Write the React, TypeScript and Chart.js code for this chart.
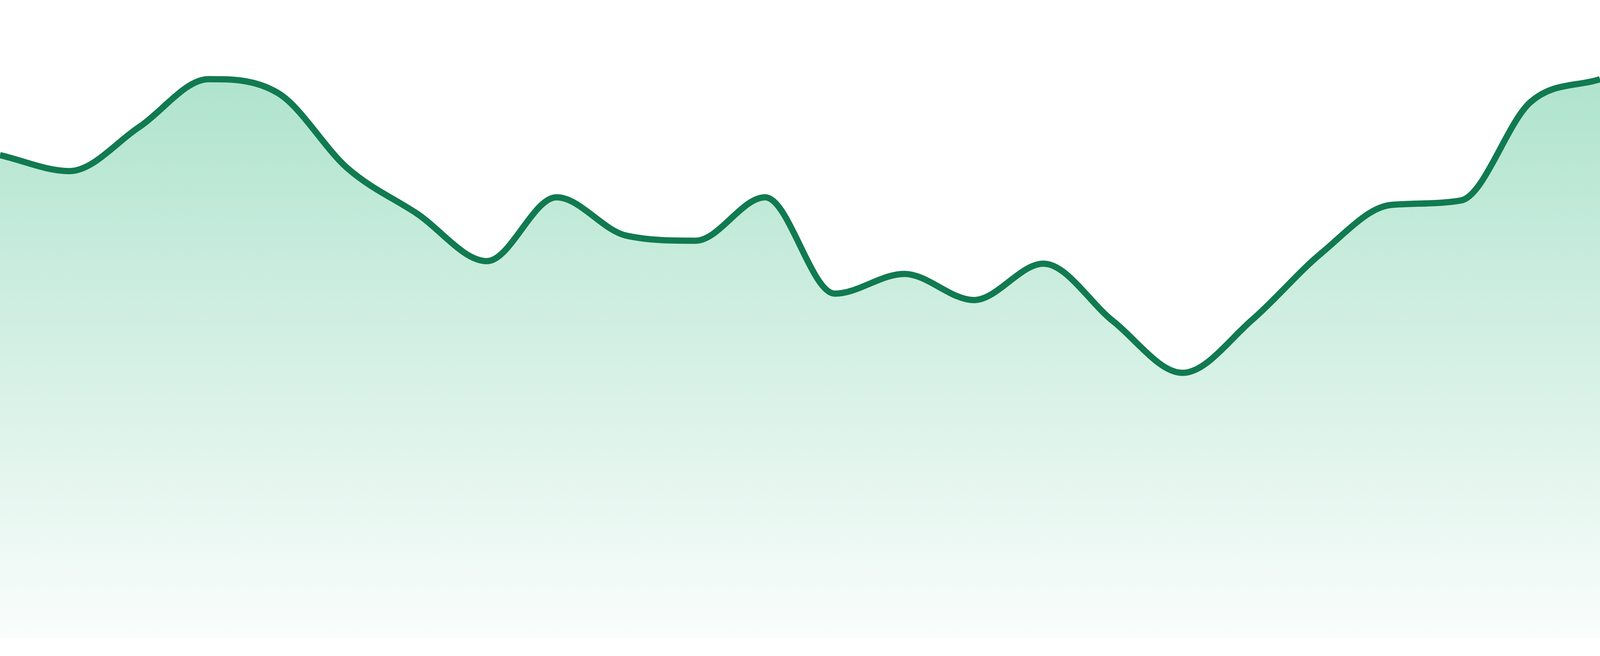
import React, { useEffect, useRef } from 'react';
import Chart from 'chart.js/auto';

// === Data ===
const LABELS = [
  '1', '2', '3', '4', '5', '6', '7', '8', '9', '10', '11', '12',
  '13', '14', '15', '16', '17', '18', '19', '20', '21', '22', '23', '24',
];

const VALUES = [
  75.7, 73.2, 80.1, 87.6, 85.4, 73.6, 66.5, 59.1, 69.1, 63.1, 62.3, 69.1,
  54.0, 57.1, 53.0, 58.7, 49.7, 41.6, 49.9, 60.4, 67.9, 68.6, 84.0, 87.6,
];

const Y_MIN = 0;
const Y_MAX = 100;

const LINE_COLOR = '#117a50';
const FILL_TOP = 'rgb(165, 224, 199)';
const FILL_BOTTOM = 'rgb(250, 253, 252)';

const App: React.FC = () => {
  const canvasRef = useRef<HTMLCanvasElement>(null);

  useEffect(() => {
    if (!canvasRef.current) return;
    const ctx = canvasRef.current.getContext('2d');
    if (!ctx) return;

    const chart = new Chart(ctx, {
      type: 'line',
      data: {
        labels: LABELS,
        datasets: [
          {
            data: VALUES,
            borderColor: LINE_COLOR,
            borderWidth: 16,
            pointRadius: 0,
            pointHoverRadius: 0,
            cubicInterpolationMode: 'monotone',
            fill: 'start',
            backgroundColor: (c: any) => {
              const area = c.chart.chartArea;
              if (!area) return FILL_TOP;
              const g = c.chart.ctx.createLinearGradient(0, area.top, 0, area.bottom);
              g.addColorStop(0, FILL_TOP);
              g.addColorStop(1, FILL_BOTTOM);
              return g;
            },
          },
        ],
      },
      options: {
        animation: false,
        responsive: true,
        maintainAspectRatio: false,
        layout: { padding: { top: 0, left: 0, right: 0, bottom: 45 } },
        plugins: {
          legend: { display: false },
          tooltip: { enabled: false },
        },
        scales: {
          x: { display: false, offset: false },
          y: { display: false, min: Y_MIN, max: Y_MAX },
        },
      },
    });

    return () => {
      chart.destroy();
    };
  }, []);

  return (
    <div style={{ position: 'fixed', inset: 0, background: '#ffffff' }}>
      <canvas ref={canvasRef} />
    </div>
  );
};

export default App;
